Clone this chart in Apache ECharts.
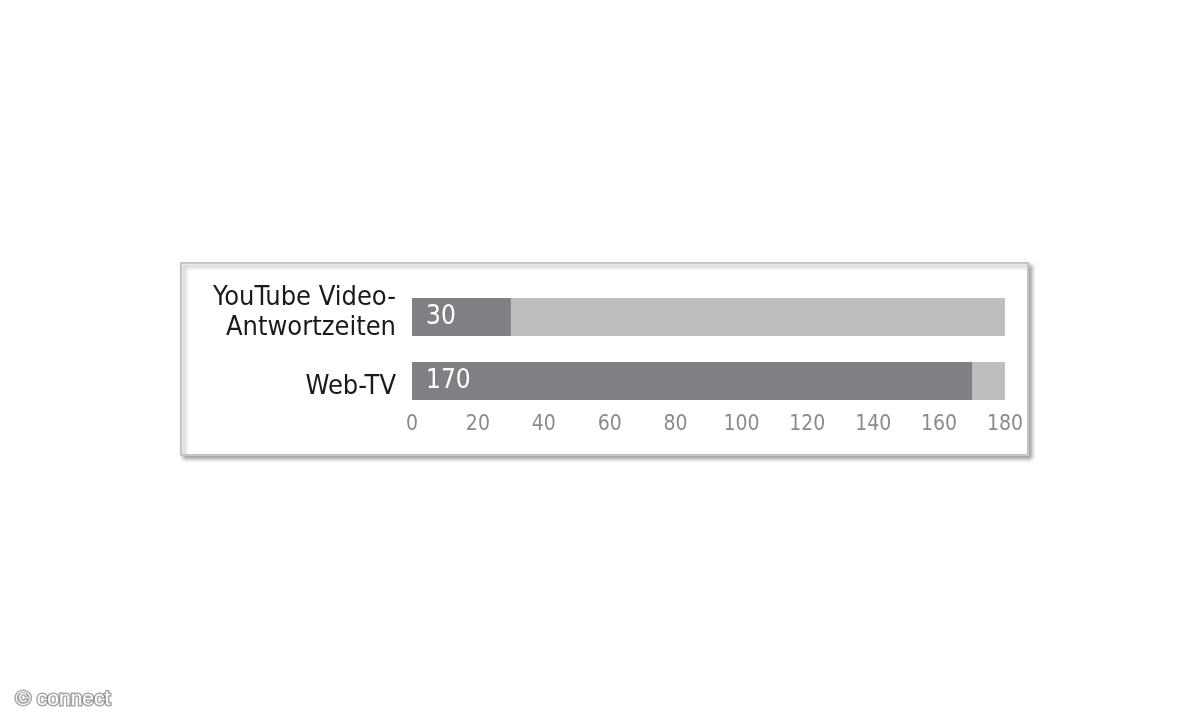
<!DOCTYPE html>
<html>
<head>
<meta charset="utf-8">
<script src="https://cdn.jsdelivr.net/npm/echarts@6/dist/echarts.min.js"></script>
<style>
  html,body{margin:0;padding:0;background:#fff}
  #chart{width:1200px;height:720px}
</style>
</head>
<body>
<div id="chart"></div>
<script>
// daten
let categories=['YouTube Video-\nAntwortzeiten','Web-TV']
let values=[30,170]
let axisMax=180
let axisStep=20

let font='"Liberation Sans Narrow","DejaVu Sans Condensed","Liberation Sans",sans-serif'

let chart=echarts.init(document.getElementById('chart'))
let options={
  backgroundColor:'#fff',
  animation:false,
  graphic:[
    {
      type:'rect',
      z:-10,
      shape:{x:181,y:263,width:847,height:192},
      style:{
        fill:'#fff',
        stroke:'#c4c5c7',
        lineWidth:2,
        shadowBlur:4,
        shadowOffsetX:3,
        shadowOffsetY:3,
        shadowColor:'rgba(0,0,0,0.35)'
      }
    },
    {
      type:'text',
      left:14,
      top:687,
      style:{
        text:'© connect',
        fill:'#fff',
        font:'21px "Liberation Sans",Arial,sans-serif',
        stroke:'rgba(110,110,110,0.6)',
        lineWidth:3,
        strokeFirst:true,
        shadowBlur:4,
        shadowColor:'rgba(0,0,0,0.6)'
      }
    }
  ],
  grid:{
    left:412,
    right:195,
    top:285,
    height:128
  },
  xAxis:{
    type:'value',
    min:0,
    max:axisMax,
    interval:axisStep,
    axisLine:{show:false},
    axisTick:{show:false},
    splitLine:{show:false},
    axisLabel:{
      color:'#8a8b8e',
      fontFamily:font,
      fontSize:21,
      margin:1
    }
  },
  yAxis:{
    type:'category',
    inverse:true,
    data:categories,
    axisLine:{show:false},
    axisTick:{show:false},
    axisLabel:{
      color:'#1a1a1a',
      fontFamily:font,
      fontSize:27,
      lineHeight:30,
      margin:16,
      align:'right',
      // kleine verschiebung wie im original
      formatter:(v,i)=>{
        if(i==0) return v.split('\n').map(l=>'{n|'+l+'}').join('\n')+'\n{s|}'
        return '{down|'+v+'}'
      },
      rich:{
        n:{fontFamily:font,fontSize:27,lineHeight:30,color:'#1a1a1a'},
        s:{fontSize:8,lineHeight:9},
        down:{fontFamily:font,fontSize:27,lineHeight:30,color:'#1a1a1a',padding:[12,0,0,0]}
      }
    }
  },
  series:[
    {
      type:'bar',
      data:values,
      barWidth:38,
      showBackground:true,
      backgroundStyle:{color:'#bcbec0'},
      itemStyle:{color:'#7f8083'},
      label:{
        show:true,
        position:'insideLeft',
        distance:14,
        color:'#fff',
        fontFamily:font,
        fontSize:26
      }
    }
  ]
}
chart.setOption(options)
</script>
</body>
</html>
